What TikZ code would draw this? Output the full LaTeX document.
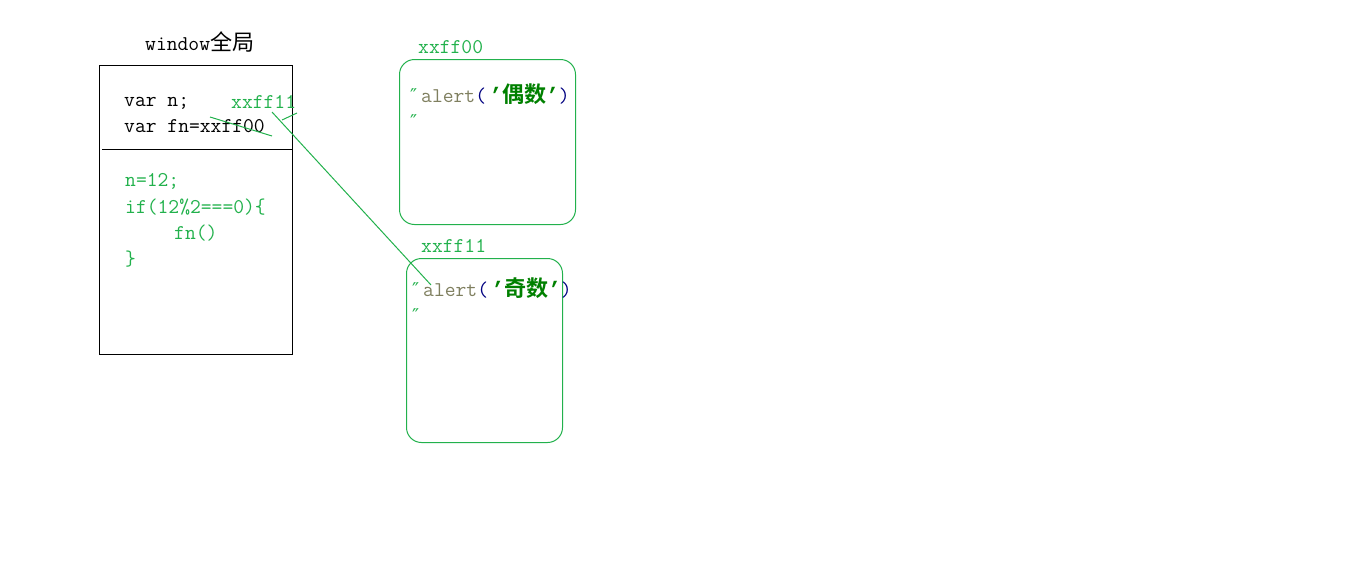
\documentclass[tikz,border=0pt]{standalone}
\usepackage{fontspec}
\newfontfamily\cjk{Noto Sans CJK SC}[Scale=1.05,BoldFont={Noto Sans CJK SC Bold}]
\newfontfamily\primefont{DejaVu Sans}
\newfontfamily\quotefont{Liberation Mono}
\definecolor{codegreen}{HTML}{22B14C}
\definecolor{darkgreen}{HTML}{008000}
\definecolor{alertgray}{HTML}{7F7F5F}
\definecolor{parennavy}{HTML}{000080}
\tikzset{
  codetext/.style={anchor=base west, inner sep=0pt, font=\ttfamily\fontsize{21}{21}\selectfont},
  heap/.style={draw=codegreen, line width=1pt, rounded corners=15pt, anchor=north west},
  pointer/.style={draw=codegreen, line width=1pt},
}
\newcommand{\dprime}{\makebox[11pt][l]{\primefont\fontsize{19}{19}\selectfont ″}}

\begin{document}
\begin{tikzpicture}[x=1pt,y=-1pt]
\useasboundingbox (0,0) rectangle (1360,573);
% Global window box
\node[codetext] (title) at (145,50) {window{\cjk 全局}};
\draw[line width=1pt] (99,65) rectangle (292,354);
\draw[line width=1pt] (102,149) -- (292,149);
\node[codetext] (varn) at (124,106) {var n;};
\node[codetext] (varfn) at (124,132) {var fn=xxff00};
\node[codetext, text=codegreen] (newaddr) at (231,108) {xxff11};

% Code in green
\node[codetext, text=codegreen] (assign) at (125,186) {n=12;};
\node[codetext, text=codegreen] (cond) at (125,213) {if(12\%2===0)\{};
\node[codetext, text=codegreen] (call) at (174,239) {fn()};
\node[codetext, text=codegreen] (close) at (125,265) {\}};

% Heap boxes
\node[heap, minimum width=176pt, minimum height=165pt] (heapA) at (399,59) {};
\node[codetext, text=codegreen] (addrA) at (418,53) {xxff00};
\node[codetext] (bodyA) at (410,102) {\textcolor{codegreen}{\dprime}\textcolor{alertgray}{alert}\textcolor{parennavy}{(}{\color{darkgreen}{\quotefont\bfseries\,’}{\cjk\bfseries 偶数}{\quotefont\bfseries ’}}\textcolor{parennavy}{)}};
\node[codetext, text=codegreen] (endA) at (410,128) {\dprime};

\node[heap, minimum width=156pt, minimum height=184pt] (heapB) at (406,258) {};
\node[codetext, text=codegreen] (addrB) at (421,252) {xxff11};
\node[codetext] (bodyB) at (412,296) {\textcolor{codegreen}{\dprime}\textcolor{alertgray}{alert}\textcolor{parennavy}{(}{\color{darkgreen}{\quotefont\bfseries\,’}{\cjk\bfseries 奇数}{\quotefont\bfseries ’}}\textcolor{parennavy}{)}};
\node[codetext, text=codegreen] (endB) at (412,322) {\dprime};

% Strike out and new pointer
\coordinate (strikeA) at (210,117);
\coordinate (strikeB) at (272,136);
\coordinate (tickA) at (282,120);
\coordinate (tickB) at (297,113);
\coordinate (linkA) at (272,112);
\coordinate (linkB) at (431,285);
\draw[pointer] (strikeA) -- (strikeB);
\draw[pointer] (tickA) -- (tickB);
\draw[pointer] (linkA) -- (linkB);
\end{tikzpicture}
\end{document}
